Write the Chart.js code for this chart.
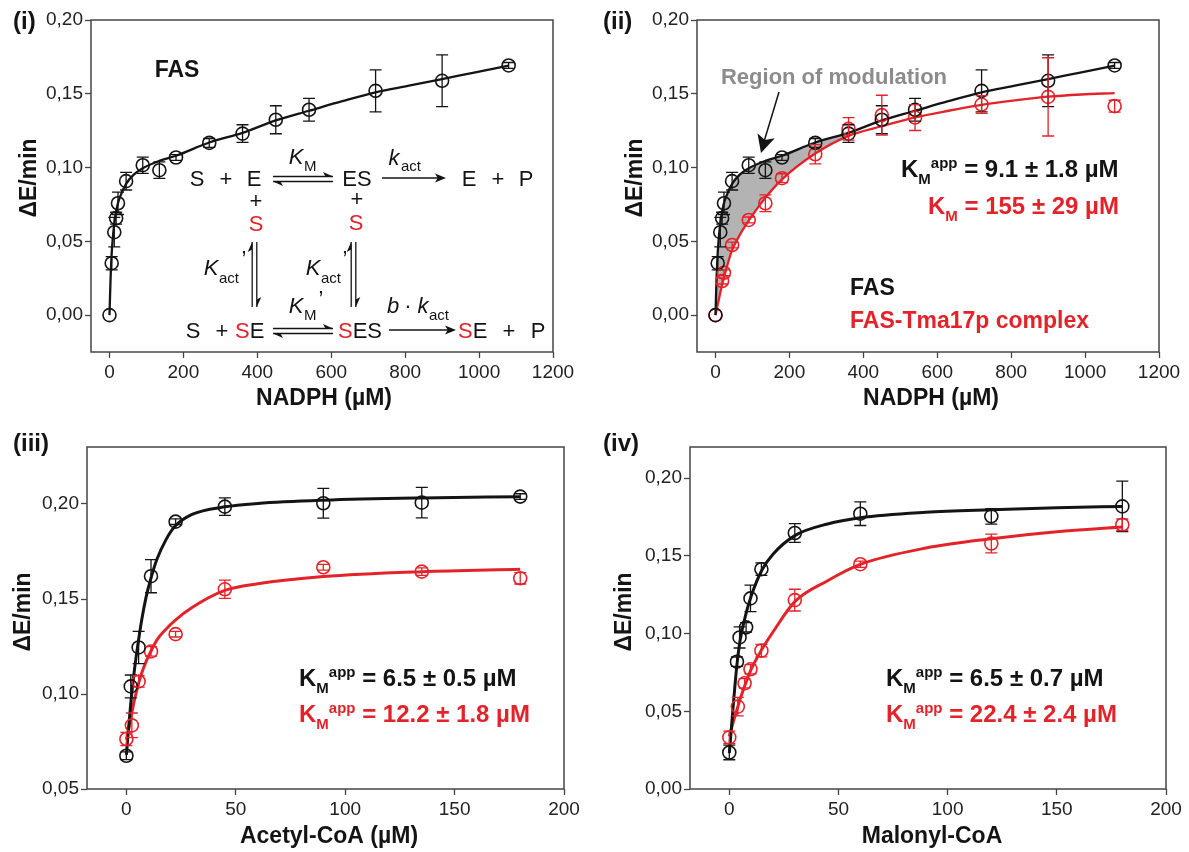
<!DOCTYPE html>
<html>
<head>
<meta charset="utf-8">
<script src="https://cdn.jsdelivr.net/npm/chart.js@4.4.1/dist/chart.umd.min.js"></script>
<style>
html,body{margin:0;padding:0;background:#fff;width:1189px;height:852px;overflow:hidden}
canvas{position:absolute}
</style>
</head>
<body>
<canvas id="c1" width="594" height="426" style="left:0;top:0"></canvas>
<canvas id="c2" width="595" height="426" style="left:594px;top:0"></canvas>
<canvas id="c3" width="594" height="426" style="left:0;top:426px"></canvas>
<canvas id="c4" width="595" height="426" style="left:594px;top:426px"></canvas>
<script>
// ---------- tick labels ----------
const nadphTicks = [0, 200, 400, 600, 800, 1000, 1200];
const coaTicks = [0, 50, 100, 150, 200];
const yTicksNadph = [0, 0.05, 0.10, 0.15, 0.20];
const yTicksAcetyl = [0.05, 0.10, 0.15, 0.20];
const yTicksMalonyl = [0, 0.05, 0.10, 0.15, 0.20];

// ---------- (i)/(ii) NADPH : FAS ----------
const nadphX = [0, 6, 13, 18, 23, 45, 90, 135, 180, 270, 360, 450, 540, 720, 900, 1080];
const fasY   = [0.000, 0.0352, 0.0562, 0.0657, 0.0758, 0.0908, 0.1016, 0.0982, 0.1068, 0.1167, 0.1230, 0.1324, 0.1392, 0.1520, 0.1588, 0.1692];
const fasErr = [0, 0.0045, 0.010, 0.004, 0.0076, 0.006, 0.0055, 0.0056, 0.002, 0.003, 0.006, 0.0095, 0.0077, 0.0142, 0.0175, 0.002];
// ---------- (ii) NADPH : FAS-Tma17p ----------
const tmaX   = [0, 18, 23, 45, 90, 135, 180, 270, 360, 450, 540, 720, 900, 1080];
const tmaY   = [0.000, 0.0231, 0.0287, 0.0475, 0.0645, 0.0758, 0.0928, 0.1090, 0.1262, 0.1355, 0.1339, 0.1427, 0.1479, 0.1416];
const tmaErr = [0, 0.002, 0.002, 0.002, 0.002, 0.0057, 0.003, 0.0065, 0.0076, 0.0135, 0.0088, 0.006, 0.0265, 0.004];
// fitted curves
const nadphFitX = [0, 3, 6, 10, 15, 22, 30, 45, 65, 90, 135, 180, 270, 360, 450, 540, 630, 720, 810, 900, 990, 1080];
const fasFitY   = [0, 0.025, 0.042, 0.055, 0.066, 0.075, 0.081, 0.089, 0.095, 0.0995, 0.1045, 0.108, 0.117, 0.1235, 0.132, 0.1385, 0.145, 0.151, 0.1555, 0.160, 0.1645, 0.169];
const tmaFitY   = [0, 0.0035, 0.007, 0.0115, 0.0175, 0.0245, 0.032, 0.044, 0.054, 0.064, 0.0795, 0.092, 0.1095, 0.1215, 0.128, 0.134, 0.1385, 0.1425, 0.1455, 0.148, 0.1495, 0.1505];
const shadeCount = 14; // fitted points up to 360 µM bound the grey region

// ---------- (iii) Acetyl-CoA ----------
const acFasX   = [0, 2, 5.6, 11.25, 22.5, 45, 90, 135, 180];
const acFasY   = [0.0675, 0.104, 0.1245, 0.162, 0.1907, 0.1986, 0.2004, 0.2007, 0.2039];
const acFasErr = [0.002, 0.006, 0.0085, 0.0087, 0.0015, 0.0046, 0.0078, 0.008, 0.0015];
const acTmaX   = [0, 2.5, 5.6, 11.25, 22.5, 45, 90, 135, 180];
const acTmaY   = [0.0763, 0.0835, 0.1066, 0.1224, 0.1315, 0.1551, 0.1667, 0.1644, 0.1609];
const acTmaErr = [0.0035, 0.0065, 0.003, 0.0025, 0.0015, 0.0048, 0.0015, 0.002, 0.003];
const acFitX    = [0, 1, 2, 3.5, 5, 7, 9, 11, 14, 18, 22, 30, 45, 60, 90, 135, 180];
const acFasFitY = [0.068, 0.082, 0.095, 0.111, 0.124, 0.139, 0.151, 0.160, 0.171, 0.181, 0.188, 0.1945, 0.1985, 0.2003, 0.202, 0.2032, 0.2038];
const acTmaFitY = [0.076, 0.081, 0.087, 0.096, 0.103, 0.111, 0.117, 0.122, 0.1285, 0.134, 0.1385, 0.1455, 0.1545, 0.158, 0.1618, 0.1644, 0.1657];

// ---------- (iv) Malonyl-CoA ----------
const maFasX   = [0, 3.5, 4.7, 7.7, 9.7, 14.7, 30, 60, 120, 180];
const maFasY   = [0.0235, 0.0819, 0.0975, 0.104, 0.1226, 0.1414, 0.1647, 0.1771, 0.1754, 0.1818];
const maFasErr = [0.0047, 0.003, 0.0068, 0.003, 0.0085, 0.004, 0.006, 0.0076, 0.005, 0.0163];
const maTmaX   = [0, 3.9, 7, 9.7, 14.7, 30, 60, 120, 180];
const maTmaY   = [0.0332, 0.053, 0.068, 0.077, 0.089, 0.1215, 0.1446, 0.1579, 0.170];
const maTmaErr = [0.004, 0.006, 0.003, 0.003, 0.004, 0.007, 0.002, 0.006, 0.0037];
const maFitX    = [0, 1, 2, 3.5, 5, 7.5, 10, 15, 20, 30, 45, 60, 90, 120, 150, 180];
const maFasFitY = [0.023, 0.040, 0.057, 0.080, 0.096, 0.112, 0.124, 0.141, 0.151, 0.163, 0.1705, 0.1745, 0.178, 0.1797, 0.181, 0.1818];
const maTmaFitY = [0.034, 0.039, 0.044, 0.051, 0.058, 0.068, 0.077, 0.090, 0.101, 0.1205, 0.134, 0.1445, 0.155, 0.161, 0.1655, 0.1685];

// ---------- styling ----------
const FONT = "'Liberation Sans', Arial, Helvetica, sans-serif";
const INK = '#141414';
const RED = '#e3232a';
const SHADE = '#b3b3b3';
const AXIS = '#454545';
Chart.defaults.font.family = FONT;

function pts(xs, ys) { return xs.map((x, i) => ({ x: x, y: ys[i] })); }
function markers(xs, ys, errs, color) {
  return { data: pts(xs, ys), errors: errs, showLine: false, borderColor: color,
    backgroundColor: 'rgba(0,0,0,0)', pointBackgroundColor: 'rgba(0,0,0,0)',
    pointBorderColor: color, pointRadius: 6.5, pointBorderWidth: 1.6, order: 0 };
}
function curve(xs, ys, color, w) {
  return { data: pts(xs, ys), showLine: true, borderColor: color, borderWidth: w,
    pointRadius: 0, cubicInterpolationMode: 'monotone', fill: false, order: 1 };
}

// ---------- text & arrow helpers ----------
function T(ctx, s, x, y, o) {
  o = o || {};
  const size = o.size || 22;
  ctx.font = (o.italic ? 'italic ' : '') + (o.bold ? 'bold ' : '') + size + 'px ' + FONT;
  ctx.fillStyle = o.color || INK;
  ctx.textAlign = o.align || 'center';
  ctx.textBaseline = 'alphabetic';
  ctx.fillText(s, x, y + 0.36 * size);
  return ctx.measureText(s).width;
}
function vTitle(ctx, s, x, y) {
  ctx.save(); ctx.translate(x, y); ctx.rotate(-Math.PI / 2);
  T(ctx, s, 0, 0, { size: 23, bold: true }); ctx.restore();
}
function kmLabel(ctx, x, y, sup, rest, color) {
  const size = 24, ss = 15;
  let cx = x + T(ctx, 'K', x, y, { size: size, bold: true, color: color, align: 'left' });
  cx += T(ctx, 'M', cx, y + 0.36 * size + 7 - 0.36 * ss, { size: ss, bold: true, color: color, align: 'left' });
  if (sup) cx += T(ctx, sup, cx, y - 0.36 * ss, { size: ss, bold: true, color: color, align: 'left' });
  T(ctx, rest, cx, y, { size: size, bold: true, color: color, align: 'left' });
}
function seg(ctx, x1, y1, x2, y2, w) {
  ctx.beginPath(); ctx.moveTo(x1, y1); ctx.lineTo(x2, y2);
  ctx.lineWidth = w || 1.3; ctx.strokeStyle = INK; ctx.stroke();
}
function head(ctx, x, y, ang, len, hw, half) {
  ctx.save(); ctx.translate(x, y); ctx.rotate(ang);
  ctx.beginPath(); ctx.moveTo(0, 0); ctx.lineTo(-len, -hw); ctx.lineTo(-len * 0.75, 0);
  if (!half) ctx.lineTo(-len, hw);
  ctx.closePath(); ctx.fillStyle = INK; ctx.fill(); ctx.restore();
}
function eqH(ctx, x1, x2, y) { // horizontal equilibrium arrows
  seg(ctx, x1, y - 2.5, x2, y - 2.5); head(ctx, x2, y - 2.5, 0, 10, 4.5, true);
  seg(ctx, x1, y + 2.5, x2, y + 2.5); head(ctx, x1, y + 2.5, Math.PI, 10, 4.5, true);
}
function eqV(ctx, x, y1, y2) { // vertical equilibrium arrows
  seg(ctx, x - 2.3, y1, x - 2.3, y2); head(ctx, x - 2.3, y1, -Math.PI / 2, 10, 4.5, true);
  seg(ctx, x + 2.3, y1, x + 2.3, y2); head(ctx, x + 2.3, y2, Math.PI / 2, 10, 4.5, true);
}
function arrow(ctx, x1, x2, y) { seg(ctx, x1, y, x2 - 8, y); head(ctx, x2, y, 0, 11, 4.5, false); }

// ---------- plugins ----------
const errorBars = {
  id: 'errorBars',
  afterDatasetsDraw(chart) {
    const ctx = chart.ctx, xs = chart.scales.x, ys = chart.scales.y;
    chart.data.datasets.forEach(ds => {
      if (!ds.errors) return;
      ctx.save(); ctx.strokeStyle = ds.borderColor; ctx.lineWidth = 1.3;
      ds.data.forEach((p, j) => {
        const e = ds.errors[j]; if (!e) return;
        const x = xs.getPixelForValue(p.x);
        const y1 = ys.getPixelForValue(p.y + e), y2 = ys.getPixelForValue(p.y - e);
        ctx.beginPath();
        ctx.moveTo(x, y1); ctx.lineTo(x, y2);
        ctx.moveTo(x - 6, y1); ctx.lineTo(x + 6, y1);
        ctx.moveTo(x - 6, y2); ctx.lineTo(x + 6, y2);
        ctx.stroke();
      });
      ctx.restore();
    });
  }
};
function decor(offX, offY, draw) {
  return {
    id: 'decor',
    afterDraw(chart) {
      const ctx = chart.ctx, a = chart.chartArea;
      ctx.save(); ctx.strokeStyle = AXIS; ctx.lineWidth = 1.5;
      ctx.strokeRect(a.left, a.top, a.right - a.left, a.bottom - a.top); ctx.restore();
      ctx.save(); ctx.translate(-offX, -offY); draw(ctx); ctx.restore();
    }
  };
}

function panel(id, W, H, offX, offY, area, xr, yr, xt, yt, datasets, draw) {
  const L = area.l - offX, R = area.r - offX, Tp = area.t - offY, B = area.b - offY;
  const tickFont = { family: FONT, size: 19 };
  return new Chart(document.getElementById(id), {
    type: 'scatter',
    data: { datasets: datasets },
    options: {
      responsive: false, animation: false, events: [],
      layout: { padding: { left: 0, top: Tp, right: W - R, bottom: 0 } },
      plugins: { legend: { display: false }, tooltip: { enabled: false } },
      scales: {
        x: {
          type: 'linear', min: xr[0], max: xr[1],
          afterBuildTicks: s => { s.ticks = xt.map(v => ({ value: v })); },
          afterFit: s => { s.height = H - B; },
          grid: { drawOnChartArea: false, drawTicks: true, tickLength: 6, color: AXIS, tickColor: AXIS, tickWidth: 1.3 },
          border: { display: false },
          ticks: { font: tickFont, color: '#222', padding: 3, maxRotation: 0, autoSkip: false, callback: v => String(v) }
        },
        y: {
          type: 'linear', min: yr[0], max: yr[1],
          afterBuildTicks: s => { s.ticks = yt.map(v => ({ value: v })); },
          afterFit: s => { s.width = L; },
          grid: { drawOnChartArea: false, drawTicks: true, tickLength: 6, color: AXIS, tickColor: AXIS, tickWidth: 1.3 },
          border: { display: false },
          ticks: { font: tickFont, color: '#222', padding: 2, autoSkip: false, callback: v => Number(v).toFixed(2).replace('.', ',') }
        }
      }
    },
    plugins: [errorBars, decor(offX, offY, draw)]
  });
}

// ---------- (i) ----------
panel('c1', 594, 426, 0, 0, { l: 91, r: 553, t: 20, b: 352 }, [-50, 1200], [-0.025, 0.20], nadphTicks, yTicksNadph,
  [markers(nadphX, fasY, fasErr, INK), curve(nadphFitX, fasFitY, INK, 2.3)],
  ctx => {
    T(ctx, '(i)', 13, 20, { size: 24, bold: true, align: 'left' });
    vTitle(ctx, 'ΔE/min', 28, 178);
    T(ctx, 'NADPH (µM)', 324, 397, { size: 23, bold: true });
    T(ctx, 'FAS', 177, 69, { size: 23, bold: true });
    // reaction scheme
    const s = 22, sm = 15;
    T(ctx, 'S', 197, 178, { size: s }); T(ctx, '+', 226, 178, { size: s }); T(ctx, 'E', 254, 178, { size: s });
    T(ctx, 'ES', 357, 178, { size: s });
    T(ctx, 'E', 469, 178, { size: s }); T(ctx, '+', 498, 178, { size: s }); T(ctx, 'P', 526, 178, { size: s });
    eqH(ctx, 273, 333, 179);
    T(ctx, 'K', 296, 156, { size: s, italic: true }); T(ctx, 'M', 304, 166, { size: sm, align: 'left' });
    arrow(ctx, 382, 446, 178);
    T(ctx, 'k', 394, 157, { size: s, italic: true }); T(ctx, 'act', 401, 166, { size: sm, align: 'left' });
    T(ctx, '+', 256, 200, { size: s }); T(ctx, 'S', 256, 223, { size: s, color: RED });
    T(ctx, '+', 357, 198, { size: s }); T(ctx, 'S', 356, 222, { size: s, color: RED });
    eqV(ctx, 254.5, 242, 307);
    eqV(ctx, 353.5, 242, 307);
    T(ctx, 'K', 211, 267, { size: s, italic: true }); T(ctx, 'act', 219, 278, { size: sm, align: 'left' }); T(ctx, '\u2019', 244, 258, { size: s });
    T(ctx, 'K', 313, 267, { size: s, italic: true }); T(ctx, 'act', 321, 278, { size: sm, align: 'left' }); T(ctx, '\u2019', 345, 258, { size: s });
    // row 2
    T(ctx, 'S', 193, 330, { size: s }); T(ctx, '+', 222, 330, { size: s });
    let w = T(ctx, 'S', 235, 330, { size: s, color: RED, align: 'left' }); T(ctx, 'E', 235 + w, 330, { size: s, align: 'left' });
    eqH(ctx, 273, 333, 331);
    T(ctx, 'K', 296, 305, { size: s, italic: true }); T(ctx, 'M', 304, 315, { size: sm, align: 'left' }); T(ctx, '\u2019', 321, 298, { size: s });
    w = T(ctx, 'S', 338, 330, { size: s, color: RED, align: 'left' }); T(ctx, 'ES', 338 + w, 330, { size: s, align: 'left' });
    arrow(ctx, 389, 456, 330);
    T(ctx, 'b', 393, 305, { size: s, italic: true }); T(ctx, '\u00b7', 408, 305, { size: s });
    T(ctx, 'k', 423, 305, { size: s, italic: true }); T(ctx, 'act', 429, 315, { size: sm, align: 'left' });
    w = T(ctx, 'S', 458, 330, { size: s, color: RED, align: 'left' }); T(ctx, 'E', 458 + w, 330, { size: s, align: 'left' });
    T(ctx, '+', 509, 330, { size: s }); T(ctx, 'P', 538, 330, { size: s });
  });

// ---------- (ii) ----------
const shadeTop = curve(nadphFitX.slice(0, shadeCount), fasFitY.slice(0, shadeCount), 'rgba(0,0,0,0)', 1);
shadeTop.order = 3;
const shadeBottom = curve(nadphFitX.slice(0, shadeCount), tmaFitY.slice(0, shadeCount), 'rgba(0,0,0,0)', 1);
shadeBottom.order = 2; shadeBottom.fill = '-1'; shadeBottom.backgroundColor = SHADE;
panel('c2', 595, 426, 594, 0, { l: 697, r: 1159, t: 20, b: 352 }, [-50, 1200], [-0.025, 0.20], nadphTicks, yTicksNadph,
  [markers(nadphX, fasY, fasErr, INK), markers(tmaX, tmaY, tmaErr, RED),
   curve(nadphFitX, fasFitY, INK, 2.3), curve(nadphFitX, tmaFitY, RED, 2.3), shadeTop, shadeBottom],
  ctx => {
    T(ctx, '(ii)', 603, 20, { size: 24, bold: true, align: 'left' });
    vTitle(ctx, 'ΔE/min', 634, 178);
    T(ctx, 'NADPH (µM)', 931, 397, { size: 23, bold: true });
    T(ctx, 'Region of modulation', 834, 76, { size: 22, bold: true, color: '#8c8c8c' });
    seg(ctx, 779, 92, 763, 145, 1.5);
    head(ctx, 761, 153, Math.atan2(153 - 92, 761 - 779), 18, 9, false);
    kmLabel(ctx, 901, 168, 'app', ' = 9.1 \u00b1 1.8 \u00b5M', INK);
    kmLabel(ctx, 928, 205, null, ' = 155 \u00b1 29 \u00b5M', RED);
    T(ctx, 'FAS', 850, 287, { size: 23, bold: true, align: 'left' });
    T(ctx, 'FAS-Tma17p complex', 850, 320, { size: 23, bold: true, align: 'left', color: RED });
  });

// ---------- (iii) ----------
panel('c3', 594, 426, 0, 426, { l: 87, r: 564, t: 447, b: 789 }, [-18, 200], [0.05, 0.23], coaTicks, yTicksAcetyl,
  [markers(acFasX, acFasY, acFasErr, INK), markers(acTmaX, acTmaY, acTmaErr, RED),
   curve(acFitX, acFasFitY, INK, 3), curve(acFitX, acTmaFitY, RED, 3)],
  ctx => {
    T(ctx, '(iii)', 13, 442, { size: 24, bold: true, align: 'left' });
    vTitle(ctx, 'ΔE/min', 22, 612);
    T(ctx, 'Acetyl-CoA (µM)', 329, 835, { size: 23, bold: true });
    kmLabel(ctx, 299, 677, 'app', ' = 6.5 \u00b1 0.5 \u00b5M', INK);
    kmLabel(ctx, 299, 713, 'app', ' = 12.2 \u00b1 1.8 \u00b5M', RED);
  });

// ---------- (iv) ----------
panel('c4', 595, 426, 594, 426, { l: 690, r: 1166, t: 447, b: 789 }, [-18, 200], [0, 0.22], coaTicks, yTicksMalonyl,
  [markers(maFasX, maFasY, maFasErr, INK), markers(maTmaX, maTmaY, maTmaErr, RED),
   curve(maFitX, maFasFitY, INK, 3), curve(maFitX, maTmaFitY, RED, 3)],
  ctx => {
    T(ctx, '(iv)', 603, 442, { size: 24, bold: true, align: 'left' });
    vTitle(ctx, 'ΔE/min', 623, 612);
    T(ctx, 'Malonyl-CoA', 932, 835, { size: 23, bold: true });
    kmLabel(ctx, 886, 677, 'app', ' = 6.5 \u00b1 0.7 \u00b5M', INK);
    kmLabel(ctx, 886, 713, 'app', ' = 22.4 \u00b1 2.4 \u00b5M', RED);
  });
</script>
</body>
</html>
